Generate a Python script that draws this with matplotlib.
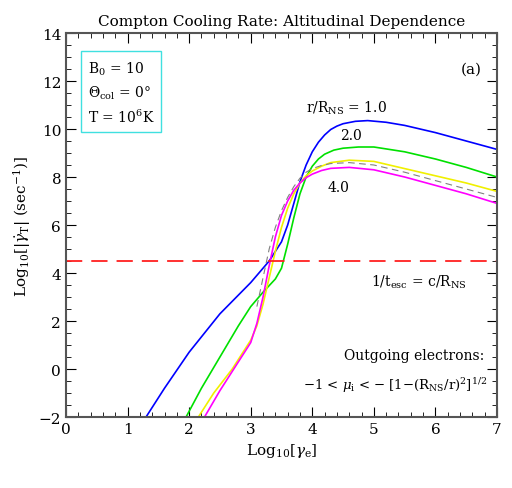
import matplotlib
matplotlib.use("Agg")
import matplotlib.pyplot as plt
plt.rcParams['font.family'] = ['DejaVu Serif']
plt.rcParams['mathtext.fontset'] = 'dejavuserif'

x_blue = [1.3, 1.6, 2.0, 2.5, 3.0, 3.3, 3.5, 3.6, 3.7, 3.8, 3.9, 4.0, 4.1, 4.2, 4.3, 4.4, 4.5, 4.7, 4.9, 5.2, 5.5, 6.0, 6.5, 7.0]
y_blue = [-2.0, -0.8, 0.7, 2.3, 3.6, 4.5, 5.3, 6.0, 6.9, 7.8, 8.5, 9.05, 9.45, 9.75, 9.98, 10.12, 10.22, 10.32, 10.35, 10.28, 10.15, 9.85, 9.5, 9.15]
x_green = [1.95, 2.2, 2.5, 2.8, 3.0, 3.2, 3.4, 3.5, 3.6, 3.7, 3.8, 3.9, 4.0, 4.1, 4.2, 4.35, 4.5, 4.75, 5.0, 5.5, 6.0, 6.5, 7.0]
y_green = [-2.0, -0.8, 0.5, 1.8, 2.6, 3.2, 3.75, 4.2, 5.2, 6.3, 7.3, 8.0, 8.45, 8.75, 8.95, 9.12, 9.2, 9.25, 9.25, 9.05, 8.75, 8.4, 8.0]
x_yellow = [2.15, 2.4, 2.7, 3.0, 3.1, 3.2, 3.3, 3.4, 3.5, 3.6, 3.7, 3.8, 3.9, 4.0, 4.15, 4.3, 4.6, 5.0, 5.5, 6.0, 6.5, 7.0]
y_yellow = [-2.0, -1.0, 0.0, 1.2, 1.8, 2.7, 3.8, 4.9, 5.9, 6.7, 7.3, 7.75, 8.05, 8.25, 8.45, 8.6, 8.7, 8.65, 8.35, 8.05, 7.75, 7.4]
x_mag = [2.25, 2.5, 2.8, 3.0, 3.1, 3.2, 3.3, 3.4, 3.5, 3.6, 3.7, 3.8, 3.9, 4.0, 4.15, 4.3, 4.6, 5.0, 5.5, 6.0, 6.5, 7.0]
y_mag = [-2.0, -0.9, 0.3, 1.1, 1.9, 3.0, 4.3, 5.5, 6.4, 7.0, 7.45, 7.75, 7.97, 8.12, 8.27, 8.36, 8.4, 8.3, 8.0, 7.65, 7.3, 6.9]
x_dash = [3.1, 3.2, 3.3, 3.4, 3.5, 3.6, 3.7, 3.8, 3.9, 4.0, 4.15, 4.3, 4.6, 5.0, 5.5, 6.0, 6.5, 7.0]
y_dash = [2.6, 3.8, 5.0, 5.9, 6.6, 7.15, 7.6, 7.95, 8.2, 8.35, 8.48, 8.56, 8.6, 8.5, 8.2, 7.85, 7.5, 7.15]
y_esc = 4.5

fig = plt.figure(figsize=(5.12, 4.89), dpi=100)
ax = fig.add_axes([66/512, 1-418/489, 431/512, 384/489])
ax.plot(x_blue, y_blue, color='#0000ff', lw=1.2)
ax.plot(x_green, y_green, color='#00e000', lw=1.2)
ax.plot(x_yellow, y_yellow, color='#f0f000', lw=1.2)
ax.plot(x_mag, y_mag, color='#ff00ff', lw=1.2)
ax.plot(x_dash, y_dash, color='gray', lw=0.8, ls=(0, (6, 4)))
ax.axhline(y_esc, color='#ff2020', lw=1.3, ls=(0, (9, 5)))
ax.set_xlim(0, 7); ax.set_ylim(-2, 14)
ax.set_xticks(range(8)); ax.set_yticks(range(-2, 15, 2))
ax.set_xticks([i*0.2 for i in range(36)], minor=True)
ax.set_yticks([i*0.5 - 2 for i in range(33)], minor=True)
ax.tick_params(direction='in', which='both', top=True, right=True, labelsize=11)
ax.tick_params(which='major', length=7)
ax.tick_params(which='minor', length=3.5)
ax.set_yticklabels(['−2', '0', '2', '4', '6', '8', '10', '12', '14'])
for s in ax.spines.values():
    s.set_color('#555555'); s.set_linewidth(1.5)
ax.set_title('Compton Cooling Rate: Altitudinal Dependence', fontsize=11, pad=6)
ax.set_xlabel(r'Log$_{10}$[$\gamma_{\rm e}$]', fontsize=11)
ax.set_ylabel(r'Log$_{10}$[|$\dot{\gamma}_{\rm T}$| (sec$^{-1}$)]', fontsize=11)
ax.text(0.35, 12.9, 'B$_0$ = 10\n$\\Theta_{\\rm col}$ = 0°\nT = 10$^6$K', fontsize=10, va='top', linespacing=1.5,
        bbox=dict(boxstyle='square,pad=0.5', fc='white', ec='#40e0e0'))
ax.text(6.75, 12.5, '(a)', fontsize=11, ha='right', va='center')
ax.text(3.9, 10.9, r'r/R$_{\rm NS}$ = 1.0', fontsize=10, ha='left', va='center')
ax.text(4.45, 9.75, '2.0', fontsize=10, ha='left', va='center')
ax.text(4.25, 7.6, '4.0', fontsize=10, ha='left', va='center')
ax.text(4.95, 3.65, r'1/t$_{\rm esc}$ = c/R$_{\rm NS}$', fontsize=10, ha='left', va='center')
ax.text(6.8, 0.6, 'Outgoing electrons:', fontsize=10, ha='right', va='center')
ax.text(6.85, -0.65, r'$-1$ < $\mu_{\rm i}$ < $-$ [1$-$(R$_{\rm NS}$/r)$^2$]$^{1/2}$', fontsize=9.5, ha='right', va='center')
fig.savefig('out.png', dpi=100)
